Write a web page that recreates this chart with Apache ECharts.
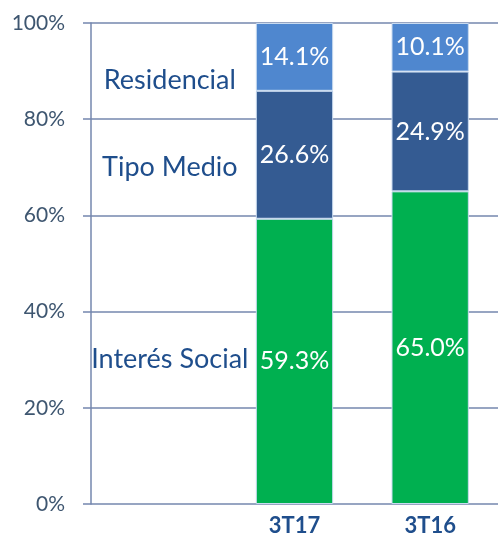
<!DOCTYPE html>
<html>
<head>
<meta charset="utf-8">
<script src="https://cdn.jsdelivr.net/npm/echarts@6/dist/echarts.min.js"></script>
<style>html,body{margin:0;padding:0;background:#fff}#c{width:498px;height:537px}</style>
</head>
<body>
<div id="c"></div>
<script>
const categories = ['', '3T17', '3T16'];
const seriesNames = ['Interés Social', 'Tipo Medio', 'Residencial'];
const interesSocial = [null, 59.3, 65.0];
const tipoMedio = [null, 26.6, 24.9];
const residencial = [null, 14.1, 10.1];
const nameLabelY = [30, 70, 88];
const yTicks = [0, 20, 40, 60, 80, 100];

const colors = ['#00B050', '#345B92', '#4F87CF'];
const values = [interesSocial, tipoMedio, residencial];
const FONT = 'Lato';
const chart = echarts.init(document.getElementById('c'));
const barSeries = values.map((v, i) => ({
  name: seriesNames[i],
  type: 'bar',
  stack: 'total',
  barWidth: '57%',
  data: v,
  itemStyle: { color: colors[i], borderColor: '#C9DBF0', borderWidth: 1 },
  label: {
    show: true, position: 'inside', color: '#fff', fontFamily: FONT, fontSize: 25,
    formatter: p => p.value.toFixed(1) + '%'
  }
}));
chart.setOption({
  animation: false,
  grid: { left: 91, right: -2, top: 23, bottom: 30 },
  xAxis: {
    type: 'category', data: categories,
    axisLine: { show: false }, axisTick: { show: false },
    axisLabel: { color: '#1F4E8C', fontFamily: FONT, fontWeight: 'bold', fontSize: 22, margin: 11 }
  },
  yAxis: {
    type: 'value', min: 0, max: 100, interval: 20,
    axisLine: { show: true, lineStyle: { color: '#7487AE', width: 1.5 } },
    axisTick: { show: true, length: 8, lineStyle: { color: '#7487AE', width: 1.5 } },
    splitLine: { lineStyle: { color: '#7487AE', width: 1.5 } },
    axisLabel: { color: '#3E5670', fontFamily: FONT, fontSize: 21, margin: 26,
      formatter: v => yTicks.includes(v) ? v + '%' : '' }
  },
  series: barSeries.concat([{
    type: 'scatter', symbolSize: 0, silent: true,
    itemStyle: { opacity: 1, color: 'transparent' },
    data: seriesNames.map((n, i) => ({ name: n, value: [0, nameLabelY[i]] })),
    label: { show: true, position: 'inside', offset: [11, 0], formatter: p => p.name,
      color: '#1F4E8C', opacity: 1, fontFamily: FONT, fontSize: 27 }
  }])
});
</script>
</body>
</html>
